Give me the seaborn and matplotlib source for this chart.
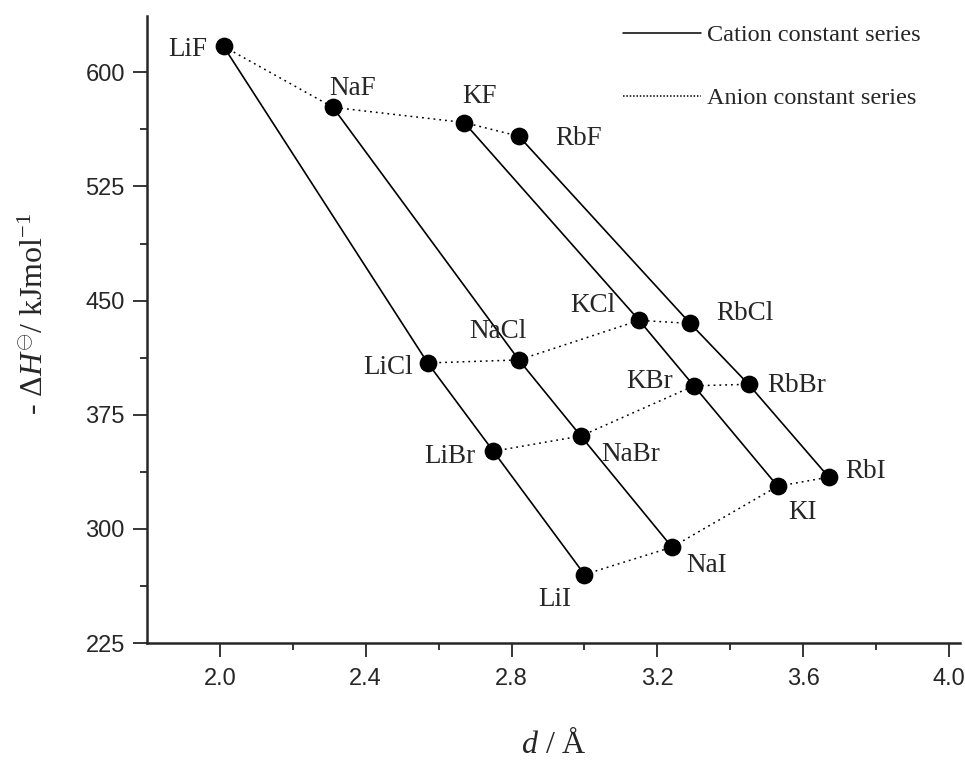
import numpy as np
import pandas as pd
import matplotlib
matplotlib.use("Agg")
import matplotlib.pyplot as plt
import seaborn as sns
from matplotlib.lines import Line2D

# alkali halides: interionic distance d (A) and -dH (kJ/mol)
salts = ["LiF", "NaF", "KF", "RbF",
         "LiCl", "NaCl", "KCl", "RbCl",
         "LiBr", "NaBr", "KBr", "RbBr",
         "LiI", "NaI", "KI", "RbI"]
cations = ["Li", "Na", "K", "Rb"] * 4
anions = ["F"] * 4 + ["Cl"] * 4 + ["Br"] * 4 + ["I"] * 4
d = [2.01, 2.31, 2.67, 2.82,
     2.57, 2.82, 3.15, 3.29,
     2.75, 2.99, 3.30, 3.45,
     3.00, 3.24, 3.53, 3.67]
dH = [617, 577, 567, 558,
      409, 411, 437, 435,
      351, 361, 394, 395,
      270, 288, 328, 334]

df = pd.DataFrame({"salt": salts, "cation": cations, "anion": anions,
                   "d": d, "dH": dH})

# label offsets in pixels (dx, dy image-down)
offsets = {"LiF": (-36, 3), "NaF": (20, -19), "KF": (15, -26), "RbF": (60, 2),
           "LiCl": (-40, 5), "NaCl": (-21, -28), "KCl": (-46, -15), "RbCl": (55, -10),
           "LiBr": (-44, 5), "NaBr": (50, 18), "KBr": (-44, -4), "RbBr": (48, 1),
           "LiI": (-30, 25), "NaI": (35, 18), "KI": (25, 26), "RbI": (37, -6)}

sns.set_style("ticks")
plt.rcParams["font.family"] = ["Liberation Serif", "DejaVu Serif"]
plt.rcParams["mathtext.fontset"] = "custom"
plt.rcParams["mathtext.rm"] = "Liberation Serif"
plt.rcParams["mathtext.it"] = "Liberation Serif:italic"

fig = plt.figure(figsize=(9.65, 7.62), dpi=100)
ax = fig.add_axes([147 / 965, 1 - 643 / 762, (960 - 147) / 965, (643 - 16) / 762])

dot_style = (0, (1.2, 2.6))
sns.lineplot(data=df, x="d", y="dH", units="cation", estimator=None, sort=False,
             color="black", lw=1.2, ax=ax, legend=False)
sns.lineplot(data=df, x="d", y="dH", units="anion", estimator=None, sort=False,
             color="black", lw=1.1, linestyle=dot_style, ax=ax, legend=False)
sns.scatterplot(data=df, x="d", y="dH", color="black", s=140, edgecolor="black",
                zorder=5, ax=ax, legend=False)

for s, x, y in zip(salts, d, dH):
    dx, dy = offsets[s]
    ax.annotate(s, (x, y), xytext=(dx, -dy), textcoords="offset pixels",
                ha="center", va="center", fontsize=19.5)

ax.set_xlim(1.8, 4.03)
ax.set_ylim(225, 637)
ax.set_xticks([2.0, 2.4, 2.8, 3.2, 3.6, 4.0])
ax.set_xticks(np.arange(2.2, 4.0, 0.4), minor=True)
ax.set_yticks([225, 300, 375, 450, 525, 600])
ax.set_yticks([262.5, 337.5, 412.5, 487.5, 562.5], minor=True)
ax.xaxis.set_major_formatter(matplotlib.ticker.FormatStrFormatter("%.1f"))
ax.tick_params(which="major", length=10, width=1.3, direction="out", pad=6)
ax.tick_params(which="minor", length=5, width=1.3, direction="out")
ax.tick_params(axis="x", pad=8)
for lab in ax.get_xticklabels() + ax.get_yticklabels():
    lab.set_fontfamily("Liberation Sans")
    lab.set_fontsize(17)

sns.despine(ax=ax)
for sp in ["left", "bottom"]:
    ax.spines[sp].set_linewidth(1.8)

ax.set_xlabel(r"$\mathit{d}$ / Å", fontsize=23, labelpad=28)
ax.set_ylabel(r"- $\mathit{\Delta H}^{\ominus}$/ kJmol$^{-1}$", fontsize=23)
ax.yaxis.set_label_coords(-0.119, 0.525)

handles = [Line2D([], [], color="black", lw=1.1),
           Line2D([], [], color="black", lw=1.1, linestyle=(0, (1, 1.2)))]
ax.legend(handles, ["Cation constant series", "Anion constant series"],
          loc="upper left", bbox_to_anchor=(623 / 965, 1 - 24 / 762),
          bbox_transform=fig.transFigure, frameon=False, fontsize=17.5,
          handlelength=3.2, handletextpad=0.25, labelspacing=1.7,
          borderpad=0, borderaxespad=0)

fig.savefig("out.png", dpi=100)
